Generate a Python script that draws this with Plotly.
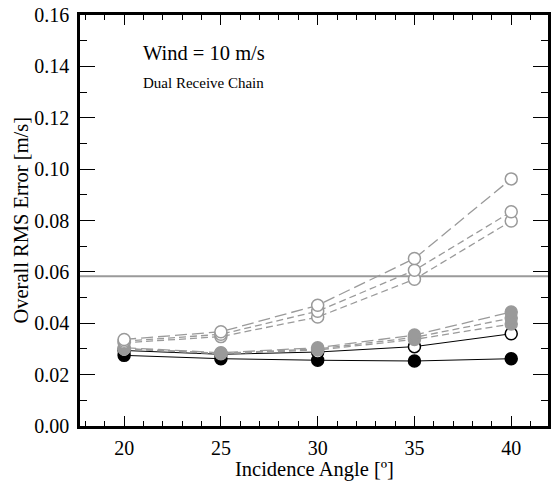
import plotly.graph_objects as go

angles = [20, 25, 30, 35, 40]

open_gray_a = [0.0337, 0.0367, 0.0470, 0.0652, 0.0962]
open_gray_b = [0.0330, 0.0357, 0.0447, 0.0606, 0.0834]
open_gray_c = [0.0324, 0.0348, 0.0424, 0.0571, 0.0798]

filled_gray_a = [0.0305, 0.0285, 0.0305, 0.0354, 0.0444]
filled_gray_b = [0.0302, 0.0283, 0.0300, 0.0345, 0.0420]
filled_gray_c = [0.0300, 0.0281, 0.0296, 0.0337, 0.0397]

open_black = [0.0294, 0.0279, 0.0288, 0.0309, 0.0359]
filled_black = [0.0275, 0.0262, 0.0256, 0.0253, 0.0262]

requirement = 0.0583

x_title = "Incidence Angle [º]"
y_title = "Overall RMS Error [m/s]"

GRAY = "#9a9a9a"
FONT = "Liberation Serif"

fig = go.Figure()

def add(y, dash, line_color, fill, edge, width=1.3):
    fig.add_trace(go.Scatter(
        x=angles, y=y, mode="lines+markers",
        line=dict(color=line_color, width=width, dash=dash),
        marker=dict(size=12, color=fill, line=dict(color=edge, width=1.5)),
        showlegend=False, cliponaxis=False))

# solid black series
add(filled_black, "solid", "black", "black", "black", 1)
add(open_black, "solid", "black", "white", "black", 1)
# filled gray
add(filled_gray_c, "7px,4px", GRAY, GRAY, GRAY)
add(filled_gray_b, "7px,4px", GRAY, GRAY, GRAY)
add(filled_gray_a, "12px,5px", GRAY, GRAY, GRAY)
# open gray
add(open_gray_c, "7px,4px", GRAY, "white", GRAY)
add(open_gray_b, "7px,4px", GRAY, "white", GRAY)
add(open_gray_a, "12px,5px", GRAY, "white", GRAY)

fig.add_shape(type="line", xref="paper", x0=0, x1=1, yref="y",
              y0=requirement, y1=requirement,
              line=dict(color=GRAY, width=2), layer="below")

fig.add_annotation(x=0.13, y=0.1451, xref="paper", yref="y", text="Wind = 10 m/s",
                   showarrow=False, xanchor="left", yanchor="middle",
                   font=dict(family=FONT, size=20.5, color="black"))
fig.add_annotation(x=0.13, y=0.1335, xref="paper", yref="y", text="Dual Receive Chain",
                   showarrow=False, xanchor="left", yanchor="middle",
                   font=dict(family=FONT, size=15, color="black"))

# axis titles
fig.add_annotation(x=0.5, y=-0.107, xref="paper", yref="paper", text=x_title,
                   showarrow=False, xanchor="center", yanchor="middle",
                   font=dict(family=FONT, size=20.5, color="black"))
fig.add_annotation(x=-0.128, y=0.5, xref="paper", yref="paper", text=y_title,
                   showarrow=False, xanchor="center", yanchor="middle", textangle=-90,
                   font=dict(family=FONT, size=20.5, color="black"))

axis_common = dict(showline=True, linecolor="black", linewidth=2.5, mirror="allticks",
                   ticks="inside", tickcolor="black", tickwidth=1,
                   showgrid=False, zeroline=False, automargin=False,
                   tickfont=dict(family=FONT, size=20, color="black"))

fig.update_xaxes(range=[17.72, 41.9], tickvals=angles, ticklen=10, ticklabelstandoff=2,
                 minor=dict(dtick=1, tick0=0, ticks="inside", ticklen=5, tickcolor="black", showgrid=False),
                 **axis_common)
fig.update_yaxes(range=[0, 0.16], dtick=0.02, tickformat=".2f", ticklen=15, ticklabelstandoff=4,
                 minor=dict(dtick=0.01, ticks="inside", ticklen=7, tickcolor="black", showgrid=False),
                 **axis_common)

fig.update_layout(width=553, height=482, margin=dict(l=80, r=5, t=15, b=56),
                  font=dict(family=FONT, color="black"),
                  plot_bgcolor="white", paper_bgcolor="white")

fig.write_html("out.html", config={"displayModeBar": False},
               post_script="document.body.style.margin='0px';document.body.style.overflow='hidden';")
